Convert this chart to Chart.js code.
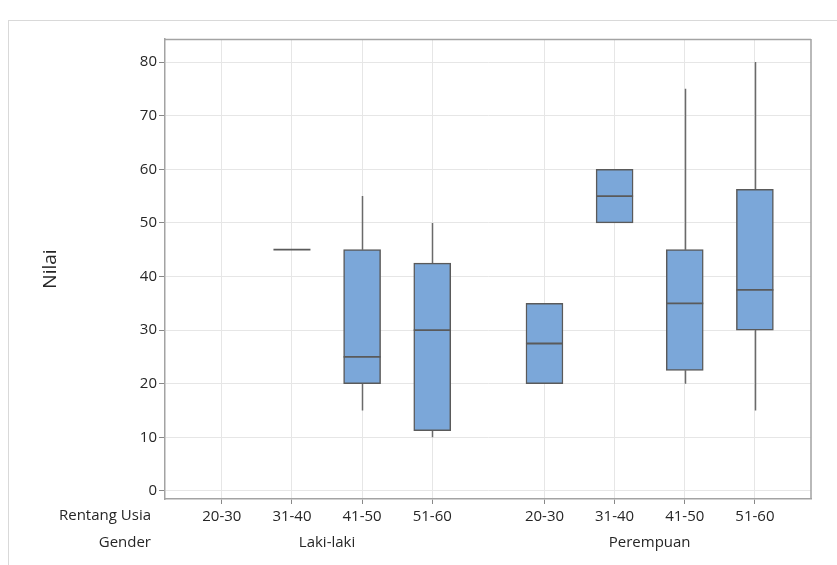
<!DOCTYPE html>
<html>
<head>
<meta charset="utf-8">
<script src="https://cdn.jsdelivr.net/npm/chart.js@4.4.1/dist/chart.umd.min.js"></script>
<style>
  html, body { margin: 0; padding: 0; background: #fff; }
  #wrap { position: relative; width: 837px; height: 565px; overflow: hidden; }
  #frame { position: absolute; left: 8px; top: 20px; width: 900px; height: 600px;
           border-left: 1px solid #d9d9d9; border-top: 1px solid #d9d9d9; }
  canvas { position: absolute; left: 0; top: 0; }
</style>
</head>
<body>
<div id="wrap"><div id="frame"></div><canvas id="c" width="837" height="565"></canvas></div>
<script>
// Age ranges and genders on the two-row category axis
const ageGroups = ['20-30', '31-40', '41-50', '51-60'];
const genders = ['Laki-laki', 'Perempuan'];

// Five-number summaries per age range (null = no data)
const lakiMin = [null, 45, 15, 10];
const lakiQ1  = [null, 45, 20, 11.25];
const lakiMed = [null, 45, 25, 30];
const lakiQ3  = [null, 45, 45, 42.5];
const lakiMax = [null, 45, 55, 50];

const perMin = [20, 50, 20, 15];
const perQ1  = [20, 50, 22.5, 30];
const perMed = [27.5, 55, 35, 37.5];
const perQ3  = [35, 60, 45, 56.25];
const perMax = [35, 60, 75, 80];

const yTicks = [0, 10, 20, 30, 40, 50, 60, 70, 80];

const summaries = [
  { min: lakiMin, q1: lakiQ1, med: lakiMed, q3: lakiQ3, max: lakiMax },
  { min: perMin,  q1: perQ1,  med: perMed,  q3: perQ3,  max: perMax }
];

// Horizontal layout of categories: unit spacing within a gender, wider gap between genders
const GROUP_GAP = 1.6;
const pos = (g, i) => g * (ageGroups.length - 1 + GROUP_GAP) + i;
const tickPositions = [], tickLabels = [];
genders.forEach((_, g) => ageGroups.forEach((a, i) => { tickPositions.push(pos(g, i)); tickLabels.push(a); }));
const groupCenters = genders.map((_, g) => (pos(g, 0) + pos(g, ageGroups.length - 1)) / 2);

// Boxes (Q1..Q3) as floating bars
const boxData = [];
summaries.forEach((s, g) => s.q1.forEach((q1, i) => {
  if (q1 !== null && s.q3[i] !== q1) boxData.push({ x: pos(g, i), y: [q1, s.q3[i]] });
}));

const BOX_W = 37;
const FONT = "'Open Sans', 'Noto Sans', sans-serif";
const TEXT = '#262626';
const FRAME = '#a3a3a3';
const X_MIN = -0.81, X_MAX = 8.4;

const boxPlugin = {
  id: 'boxParts',
  beforeDatasetsDraw(chart) {
    const { ctx, scales: { x, y } } = chart;
    ctx.save();
    ctx.strokeStyle = '#6a6a6a';
    ctx.lineWidth = 1.5;
    summaries.forEach((s, g) => s.med.forEach((m, i) => {
      if (m === null) return;
      const px = Math.round(x.getPixelForValue(pos(g, i))) + 0.5;
      ctx.beginPath();
      if (s.max[i] > s.q3[i]) { ctx.moveTo(px, y.getPixelForValue(s.q3[i])); ctx.lineTo(px, y.getPixelForValue(s.max[i])); }
      if (s.min[i] < s.q1[i]) { ctx.moveTo(px, y.getPixelForValue(s.q1[i])); ctx.lineTo(px, y.getPixelForValue(s.min[i])); }
      ctx.stroke();
    }));
    ctx.restore();
  },
  afterDatasetsDraw(chart) {
    const { ctx, scales: { x, y } } = chart;
    ctx.save();
    ctx.strokeStyle = '#5a5a5a';
    ctx.lineWidth = 1.8;
    summaries.forEach((s, g) => s.med.forEach((m, i) => {
      if (m === null) return;
      const px = x.getPixelForValue(pos(g, i));
      const py = y.getPixelForValue(m);
      ctx.beginPath();
      ctx.moveTo(px - BOX_W / 2, py);
      ctx.lineTo(px + BOX_W / 2, py);
      ctx.stroke();
    }));
    ctx.restore();
  },
  afterDraw(chart) {
    const { ctx, chartArea: a, scales: { x, xg } } = chart;
    ctx.save();
    // top and right edges of the plot frame
    ctx.strokeStyle = FRAME;
    ctx.lineWidth = 1.5;
    ctx.beginPath();
    ctx.moveTo(a.left, a.top + 0.5);
    ctx.lineTo(a.right, a.top + 0.5);
    ctx.moveTo(a.right, a.top);
    ctx.lineTo(a.right, a.bottom);
    ctx.stroke();
    // row captions of the category axis
    ctx.fillStyle = TEXT;
    ctx.font = '15px ' + FONT;
    ctx.textAlign = 'right';
    ctx.textBaseline = 'middle';
    const row1 = x.top + 5 + 3 + 15 * 1.2 / 2;
    const row2 = xg.top + 5 + 15 * 1.2 / 2;
    ctx.fillText('Rentang Usia', a.left - 14, row1);
    ctx.fillText('Gender', a.left - 14, row2);
    ctx.restore();
  }
};

new Chart(document.getElementById('c'), {
  type: 'bar',
  data: {
    datasets: [{
      data: boxData,
      backgroundColor: '#7ba7d9',
      borderColor: '#5a5a5a',
      borderWidth: 1.5,
      borderSkipped: false,
      barThickness: BOX_W
    }]
  },
  plugins: [boxPlugin],
  options: {
    responsive: false,
    animation: false,
    layout: { padding: { left: 0, top: 39, right: 26, bottom: 0 } },
    plugins: { legend: { display: false }, tooltip: { enabled: false } },
    scales: {
      x: {
        type: 'linear',
        position: 'bottom',
        offset: false,
        min: X_MIN, max: X_MAX,
        afterBuildTicks: s => { s.ticks = tickPositions.map(v => ({ value: v })); },
        afterFit: s => { s.height = 30; },
        ticks: {
          autoSkip: false, maxRotation: 0, padding: 4,
          color: TEXT, font: { family: FONT, size: 15 },
          callback: (v, i) => tickLabels[i]
        },
        grid: { offset: false, color: '#e6e6e6', tickColor: '#888', tickLength: 5 },
        border: { color: FRAME, width: 1.5 }
      },
      xg: {
        type: 'linear',
        position: 'bottom',
        offset: false,
        min: X_MIN, max: X_MAX,
        afterBuildTicks: s => { s.ticks = groupCenters.map(v => ({ value: v })); },
        afterFit: s => { s.height = 36; },
        ticks: {
          autoSkip: false, maxRotation: 0, padding: 5,
          color: TEXT, font: { family: FONT, size: 15 },
          callback: (v, i) => genders[i]
        },
        grid: { display: false, drawTicks: false, offset: false },
        border: { display: false }
      },
      y: {
        min: -1.5, max: 84.3,
        afterBuildTicks: s => { s.ticks = yTicks.map(v => ({ value: v })); },
        afterFit: s => { s.width = 165; },
        ticks: { padding: 2, color: TEXT, font: { family: FONT, size: 15 } },
        grid: { color: '#e6e6e6', tickColor: '#888', tickLength: 6 },
        border: { color: FRAME, width: 1.5 },
        title: {
          display: true, text: 'Nilai', color: TEXT,
          font: { family: FONT, size: 19 }, padding: { top: 39, bottom: 0 }
        }
      }
    }
  }
});
</script>
</body>
</html>
